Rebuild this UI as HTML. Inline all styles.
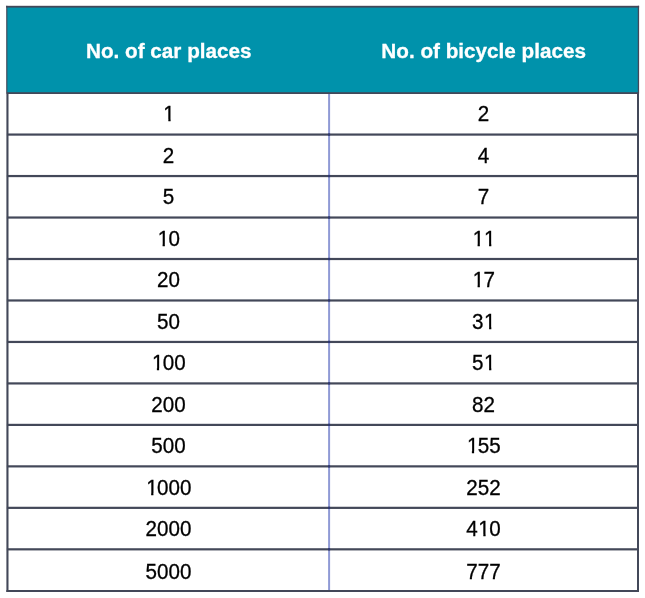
<!DOCTYPE html>
<html><head><meta charset="utf-8">
<title>Car and bicycle places</title>
<style>
html,body{margin:0;padding:0;background:#fff;}
body{width:645px;height:598px;position:relative;overflow:hidden;font-family:"Liberation Sans",sans-serif;color:#000;}
svg{position:absolute;left:0;top:0;}
.c{position:absolute;text-align:center;white-space:nowrap;line-height:24px;height:24px;}
.th{font-weight:bold;font-size:20.7px;color:#fff;-webkit-text-stroke:0.3px #fff;transform:scaleY(1);transform-origin:50% 50%;}
.td{font-size:20.6px;-webkit-text-stroke:0.3px #000;transform:scaleY(1.03);transform-origin:50% 50%;}
.o{display:inline-block;position:relative;left:0.6px;clip-path:polygon(-1px -1px,13px -1px,13px 16.8px,7.2px 16.8px,7.2px 25px,5.0px 25px,5.0px 16.8px,-1px 16.8px);}
</style></head><body>
<svg width="645" height="598" viewBox="0 0 645 598">
<rect x="6.9" y="6.3" width="631.6" height="86.8" fill="#0092ab"/>
<rect x="328.1" y="93.1" width="2" height="497.9" fill="#8f9ad5"/>
<g fill="#434859">
<rect x="6.9" y="92.2" width="631.6" height="1.8"/>
<rect x="6.9" y="133.47" width="631.6" height="2.2"/>
<rect x="6.9" y="174.95" width="631.6" height="2.2"/>
<rect x="6.9" y="216.43" width="631.6" height="2.2"/>
<rect x="6.9" y="257.9" width="631.6" height="2.2"/>
<rect x="6.9" y="299.38" width="631.6" height="2.2"/>
<rect x="6.9" y="340.85" width="631.6" height="2.2"/>
<rect x="6.9" y="382.32" width="631.6" height="2.2"/>
<rect x="6.9" y="423.8" width="631.6" height="2.2"/>
<rect x="6.9" y="465.27" width="631.6" height="2.2"/>
<rect x="6.9" y="506.75" width="631.6" height="2.2"/>
<rect x="6.9" y="548.23" width="631.6" height="2.2"/>
<rect x="6.1" y="5.8" width="633" height="1.8"/>
<rect x="6.4" y="590" width="632.6" height="2"/>
<rect x="6.4" y="93" width="2.1" height="499"/>
<rect x="637" y="93" width="2" height="499"/>
<rect x="6.2" y="5.8" width="1.15" height="87.7"/>
<rect x="637.8" y="5.8" width="1.3" height="87.7"/>
</g>
<g fill="#2c3674">
<rect x="328.1" y="133.47" width="2" height="2.2"/>
<rect x="328.1" y="174.95" width="2" height="2.2"/>
<rect x="328.1" y="216.43" width="2" height="2.2"/>
<rect x="328.1" y="257.9" width="2" height="2.2"/>
<rect x="328.1" y="299.38" width="2" height="2.2"/>
<rect x="328.1" y="340.85" width="2" height="2.2"/>
<rect x="328.1" y="382.32" width="2" height="2.2"/>
<rect x="328.1" y="423.8" width="2" height="2.2"/>
<rect x="328.1" y="465.27" width="2" height="2.2"/>
<rect x="328.1" y="506.75" width="2" height="2.2"/>
<rect x="328.1" y="548.23" width="2" height="2.2"/>
</g>
</svg>
<div class="c th" style="left:18.8px;top:39px;width:300px">No. of car places</div>
<div class="c th" style="left:333.65px;top:39px;width:300px">No. of bicycle places</div>
<div class="c td" style="left:68.5px;top:102px;width:200px"><span class="o">1</span></div>
<div class="c td" style="left:383.5px;top:102px;width:200px">2</div>
<div class="c td" style="left:68.5px;top:144px;width:200px">2</div>
<div class="c td" style="left:383.5px;top:144px;width:200px">4</div>
<div class="c td" style="left:68.5px;top:185px;width:200px">5</div>
<div class="c td" style="left:383.5px;top:185px;width:200px">7</div>
<div class="c td" style="left:68.5px;top:227px;width:200px"><span class="o">1</span>0</div>
<div class="c td" style="left:383.5px;top:227px;width:200px"><span class="o">1</span><span class="o">1</span></div>
<div class="c td" style="left:68.5px;top:268px;width:200px">20</div>
<div class="c td" style="left:383.5px;top:268px;width:200px"><span class="o">1</span>7</div>
<div class="c td" style="left:68.5px;top:310px;width:200px">50</div>
<div class="c td" style="left:383.5px;top:310px;width:200px">3<span class="o">1</span></div>
<div class="c td" style="left:68.5px;top:351px;width:200px"><span class="o">1</span>00</div>
<div class="c td" style="left:383.5px;top:351px;width:200px">5<span class="o">1</span></div>
<div class="c td" style="left:68.5px;top:393px;width:200px">200</div>
<div class="c td" style="left:383.5px;top:393px;width:200px">82</div>
<div class="c td" style="left:68.5px;top:434px;width:200px">500</div>
<div class="c td" style="left:383.5px;top:434px;width:200px"><span class="o">1</span>55</div>
<div class="c td" style="left:68.5px;top:476px;width:200px"><span class="o">1</span>000</div>
<div class="c td" style="left:383.5px;top:476px;width:200px">252</div>
<div class="c td" style="left:68.5px;top:517px;width:200px">2000</div>
<div class="c td" style="left:383.5px;top:517px;width:200px">4<span class="o">1</span>0</div>
<div class="c td" style="left:68.5px;top:560px;width:200px">5000</div>
<div class="c td" style="left:383.5px;top:560px;width:200px">777</div>
</body></html>
